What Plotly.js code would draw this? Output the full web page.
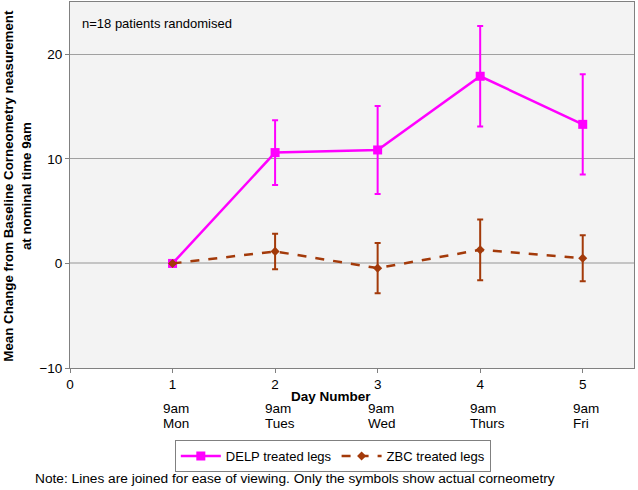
<!DOCTYPE html>
<html>
<head>
<meta charset="utf-8">
<script src="https://cdn.plot.ly/plotly-3.0.1.min.js"></script>
<style>html,body{margin:0;padding:0;background:#fff;}#chart{width:638px;height:490px;}</style>
</head>
<body>
<div id="chart"></div>
<script>
var days = [1, 2, 3, 4, 5];
var dayTimes = ["9am", "9am", "9am", "9am", "9am"];
var dayNames = ["Mon", "Tues", "Wed", "Thurs", "Fri"];
var delpMean = [0, 10.6, 10.85, 17.9, 13.3];
var delpErr = [0, 3.1, 4.2, 4.8, 4.8];
var zbcMean = [0, 1.15, -0.45, 1.3, 0.5];
var zbcErr = [0, 1.7, 2.4, 2.9, 2.2];

var FONT = "Arial, 'Liberation Sans', sans-serif";

var traces = [
  {
    x: days, y: delpMean, name: "DELP treated legs", type: "scatter", mode: "lines+markers",
    line: {color: "#ff00ff", width: 2.5},
    marker: {symbol: "square", size: 9, color: "#ff00ff"},
    error_y: {type: "data", array: delpErr, visible: true, color: "#ff00ff", thickness: 2, width: 3}
  },
  {
    x: days, y: zbcMean, name: "ZBC treated legs", type: "scatter", mode: "lines+markers",
    line: {color: "#a33a0a", width: 2.5, dash: "dash"},
    marker: {symbol: "diamond", size: 7, color: "#a33a0a"},
    error_y: {type: "data", array: zbcErr, visible: true, color: "#a33a0a", thickness: 2, width: 3}
  }
];

var annotations = [
  {xref: "paper", yref: "paper", x: 0.017, y: 0.94, xanchor: "left", yanchor: "middle",
   text: "n=18 patients randomised", showarrow: false, font: {family: FONT, size: 13, color: "#000"}},
  {xref: "paper", yref: "paper", x: 0.463, y: -0.077, xanchor: "center", yanchor: "middle",
   text: "<b>Day Number</b>", showarrow: false, font: {family: FONT, size: 13.5, color: "#000"}},
  {xref: "paper", yref: "paper", x: -0.093, y: 0.497, xanchor: "center", yanchor: "middle", textangle: -90,
   text: "<b>Mean Change from Baseline Corneometry neasurement<br>at nominal time 9am</b>",
   showarrow: false, font: {family: FONT, size: 13.3, color: "#000"}},
  {xref: "paper", yref: "paper", x: 0.399, y: -0.303, xanchor: "center", yanchor: "middle",
   text: "Note: Lines are joined for ease of viewing. Only the symbols show actual corneometry",
   showarrow: false, font: {family: FONT, size: 13.7, color: "#000"}}
];
for (var i = 0; i < days.length; i++) {
  annotations.push({
    xref: "x", yref: "paper", x: days[i], y: -0.112, xanchor: "left", yanchor: "middle", xshift: -12,
    text: dayTimes[i], showarrow: false, font: {family: FONT, size: 13.5, color: "#000"}
  });
  annotations.push({
    xref: "x", yref: "paper", x: days[i], y: -0.153, xanchor: "left", yanchor: "middle", xshift: -12,
    text: dayNames[i], showarrow: false, font: {family: FONT, size: 13.5, color: "#000"}
  });
}

var layout = {
  width: 638, height: 490,
  margin: {l: 70, r: 4, t: 2, b: 122},
  paper_bgcolor: "#ffffff",
  plot_bgcolor: "#f3f3f3",
  showlegend: true,
  legend: {orientation: "h", x: 0.466, xanchor: "center", y: -0.197, yanchor: "top",
           bordercolor: "#808080", borderwidth: 1, bgcolor: "#ffffff",
           font: {family: FONT, size: 13, color: "#000"}, itemwidth: 40},
  xaxis: {range: [0, 5.5], dtick: 1, tick0: 0, showgrid: false, zeroline: false,
          showline: true, linecolor: "#808080", linewidth: 1, mirror: true,
          ticks: "outside", ticklen: 4, tickcolor: "#808080",
          tickfont: {family: FONT, size: 13.5, color: "#000"}},
  yaxis: {range: [-10, 25], dtick: 10, tick0: 0, showgrid: true, gridcolor: "#a0a0a0", gridwidth: 1,
          zeroline: true, zerolinecolor: "#c4c4c4", zerolinewidth: 2,
          showline: true, linecolor: "#808080", linewidth: 1, mirror: true,
          ticks: "outside", ticklen: 4, tickcolor: "#808080",
          tickfont: {family: FONT, size: 13.5, color: "#000"}},
  annotations: annotations
};

Plotly.newPlot("chart", traces, layout, {displayModeBar: false, staticPlot: true});
</script>
</body>
</html>
